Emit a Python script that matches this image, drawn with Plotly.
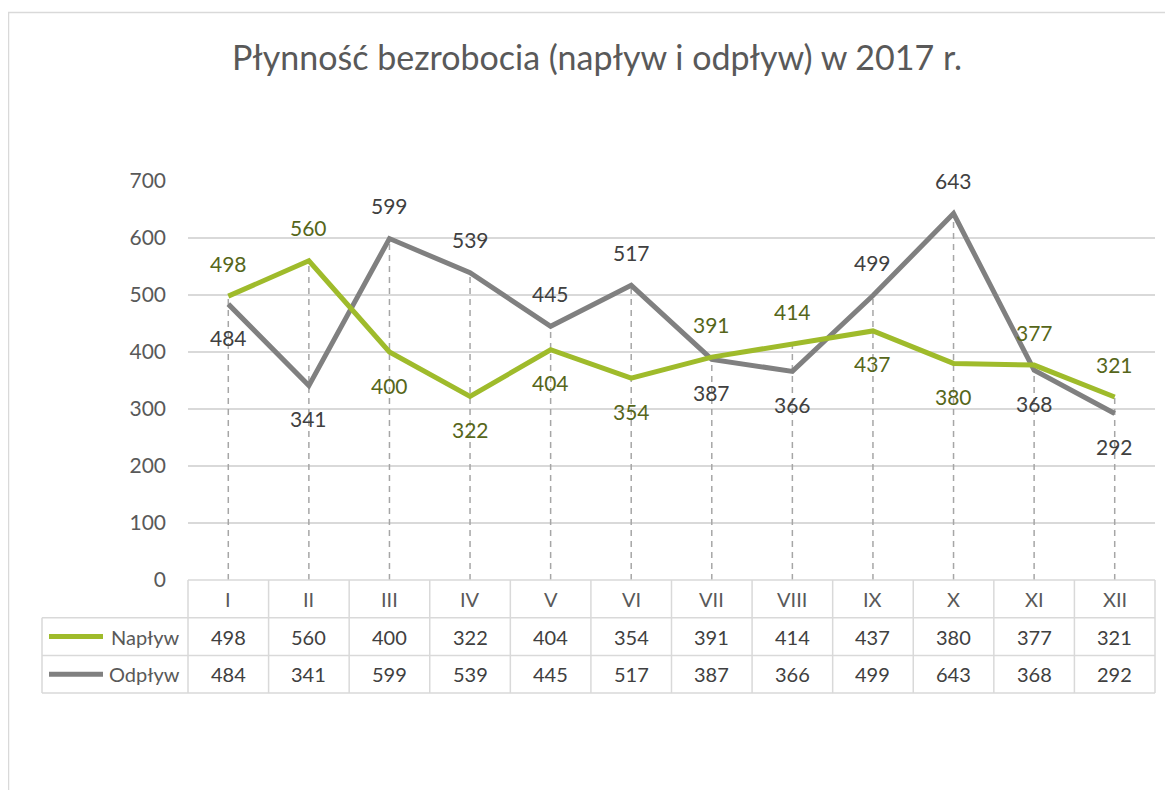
import plotly.graph_objects as go

# data
months = ["I", "II", "III", "IV", "V", "VI", "VII", "VIII", "IX", "X", "XI", "XII"]
naplyw = [498, 560, 400, 322, 404, 354, 391, 414, 437, 380, 377, 321]
odplyw = [484, 341, 599, 539, 445, 517, 387, 366, 499, 643, 368, 292]
y_ticks = [0, 100, 200, 300, 400, 500, 600, 700]

# label placement (above = +1, below = -1), as in the original
naplyw_side = [1, 1, -1, -1, -1, -1, 1, 1, -1, -1, 1, 1]
odplyw_side = [-1, -1, 1, 1, 1, 1, -1, -1, 1, 1, -1, -1]

GREEN = "#9fbb2b"
GREEN_TXT = "#56661a"
GREY = "#808080"
GREY_TXT = "#404040"
AXIS_TXT = "#595959"
GRID = "#d9d9d9"
FONT = "Lato"

# the page body has an 8px margin, so the figure is laid out 8px smaller
OFF = 8
W, H = 1173 - OFF, 790 - OFF
L, R, T, B = 188 - OFF, 18, 181 - OFF, 790 - 580
PW, PH = W - L - R, H - T - B


def px_x(px):
    # reference pixel -> paper x
    return (px - OFF - L) / PW


def px_y(py):
    # reference pixel -> paper y
    return (H - B - (py - OFF)) / PH


fig = go.Figure()

# dashed drop lines from the higher value down to 0
drop_x, drop_y = [], []
for m, a, b in zip(months, naplyw, odplyw):
    drop_x += [m, m, None]
    drop_y += [0, max(a, b), None]
fig.add_trace(go.Scatter(x=drop_x, y=drop_y, mode="lines",
                         line=dict(color="#a6a6a6", width=1.5, dash="6px,5px"),
                         hoverinfo="skip", showlegend=False))

fig.add_trace(go.Scatter(x=months, y=odplyw, mode="lines", name="Odpływ",
                         line=dict(color=GREY, width=5), showlegend=False))
fig.add_trace(go.Scatter(x=months, y=naplyw, mode="lines", name="Napływ",
                         line=dict(color=GREEN, width=5), showlegend=False))

annotations = []
for series, sides, col in [(naplyw, naplyw_side, GREEN_TXT), (odplyw, odplyw_side, GREY_TXT)]:
    for m, v, s in zip(months, series, sides):
        annotations.append(dict(x=m, y=v, text=str(v), showarrow=False, yshift=33 * s,
                                xanchor="center", yanchor="middle",
                                font=dict(family=FONT, size=21, color=col)))

# data table under the chart
row_h = 37.7
y0 = 580
shapes = []
line_style = dict(color=GRID, width=1.5)
# horizontal lines
shapes.append(dict(type="line", xref="paper", yref="paper", x0=0, x1=1,
                   y0=0, y1=0, line=line_style))
for k in range(1, 4):
    shapes.append(dict(type="line", xref="paper", yref="paper", x0=px_x(42), x1=1,
                       y0=px_y(y0 + k * row_h), y1=px_y(y0 + k * row_h), line=line_style))
# vertical lines
shapes.append(dict(type="line", xref="paper", yref="paper", x0=px_x(42), x1=px_x(42),
                   y0=px_y(y0 + row_h), y1=px_y(y0 + 3 * row_h), line=line_style))
for k in range(len(months) + 1):
    xv = k / len(months)
    shapes.append(dict(type="line", xref="paper", yref="paper", x0=xv, x1=xv,
                       y0=0, y1=px_y(y0 + 3 * row_h), line=line_style))

rows = [(None, months, AXIS_TXT), ("Napływ", naplyw, GREY_TXT), ("Odpływ", odplyw, GREY_TXT)]
for r, (name, vals, col) in enumerate(rows):
    yc = px_y(y0 + (r + 0.5) * row_h)
    for m, v in zip(months, vals):
        annotations.append(dict(x=m, y=yc, yref="paper", text=str(v), showarrow=False,
                                xanchor="center", yanchor="middle",
                                font=dict(family=FONT, size=20, color=col)))
    if name:
        annotations.append(dict(x=px_x(182), y=yc, xref="paper", yref="paper", text=name,
                                xanchor="right", yanchor="middle", showarrow=False,
                                font=dict(family=FONT, size=20, color=AXIS_TXT)))
        key_col = GREEN if name == "Napływ" else GREY
        shapes.append(dict(type="line", xref="paper", yref="paper", x0=px_x(49), x1=px_x(103),
                           y0=yc, y1=yc, line=dict(color=key_col, width=5)))

# outer chart frame
shapes.append(dict(type="rect", xref="paper", yref="paper", x0=px_x(8.5), x1=px_x(1200),
                   y0=px_y(820), y1=px_y(12.5), line=dict(color="#d9d9d9", width=1.5),
                   layer="below"))

fig.update_layout(
    width=W, height=H,
    margin=dict(l=L, r=R, t=T, b=B),
    paper_bgcolor="white", plot_bgcolor="white",
    title=dict(text="Płynność bezrobocia (napływ i odpływ) w 2017 r.",
               x=px_x(597), xref="paper", xanchor="center", y=1 - (58 - OFF) / H,
               yanchor="middle",
               font=dict(family=FONT, size=34, color=AXIS_TXT)),
    xaxis=dict(type="category", range=[-0.5, 11.5], showticklabels=False,
               showgrid=False, zeroline=False, showline=False, ticks=""),
    yaxis=dict(range=[0, 700], tickvals=y_ticks, showgrid=True, gridcolor=GRID,
               gridwidth=1.5, zeroline=False, showline=False, ticks="",
               tickfont=dict(family=FONT, size=21, color=AXIS_TXT), ticklabelstandoff=21),
    shapes=shapes,
    annotations=annotations,
    showlegend=False,
)

fig.write_html("out.html")
